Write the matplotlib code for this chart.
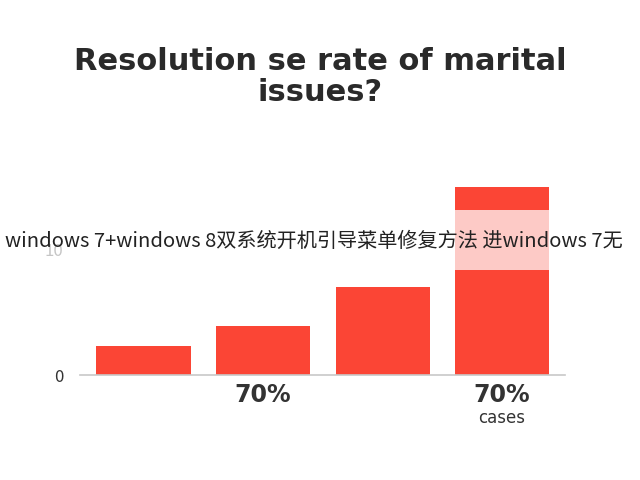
import matplotlib
matplotlib.use('Agg')
import matplotlib.pyplot as plt
from matplotlib.patches import Rectangle

plt.rcParams['font.family'] = ['Noto Sans CJK SC', 'DejaVu Sans']

values = [2.3, 3.9, 7.0, 15.0]
bar_labels = ['', '70%', '', '70%']
sub_labels = ['', '', '', 'cases']
title = 'Resolution se rate of marital\nissues?'
banner = 'windows 7+windows 8双系统开机引导菜单修复方法 进windows 7无'

fig = plt.figure(figsize=(6.4, 4.8), dpi=100)
fig.patch.set_facecolor('white')
ax = fig.add_axes([0.125, 0.21875, 0.758, 0.4167])
x = range(len(values))
ax.bar(x, values, width=0.787, color='#fb4535', zorder=2)
ax.set_xlim(-0.531, 3.527)
ax.set_ylim(0, 16)
for s in ['top', 'right', 'left']:
    ax.spines[s].set_visible(False)
ax.spines['bottom'].set_color('#c8c8c8')
ax.spines['bottom'].set_linewidth(1.2)
ax.set_xticks([])
ax.set_yticks([0, 10])
ax.set_yticklabels(['0', '10'], fontsize=12, color='#333333')
ax.tick_params(axis='y', length=0, pad=12)
for i, (l, s) in enumerate(zip(bar_labels, sub_labels)):
    if l:
        ax.text(i, -1.6, l, ha='center', va='center', fontsize=17,
                fontweight='bold', color='#333333', family='DejaVu Sans')
    if s:
        ax.text(i, -3.4, s, ha='center', va='center', fontsize=12,
                color='#333333', family='DejaVu Sans')

fig.text(0.5, 0.84, title, ha='center', va='center', fontsize=22,
         fontweight='bold', color='#2a2a2a', family='DejaVu Sans', linespacing=1.1)

fig.patches.append(Rectangle((0, 0.4375), 1, 0.125, transform=fig.transFigure,
                             facecolor='white', alpha=0.72, zorder=5))
fig.text(0.008, 0.496, banner, ha='left', va='center', fontsize=14.5,
         color='#222222', zorder=6)

fig.savefig('out.png', dpi=100)
